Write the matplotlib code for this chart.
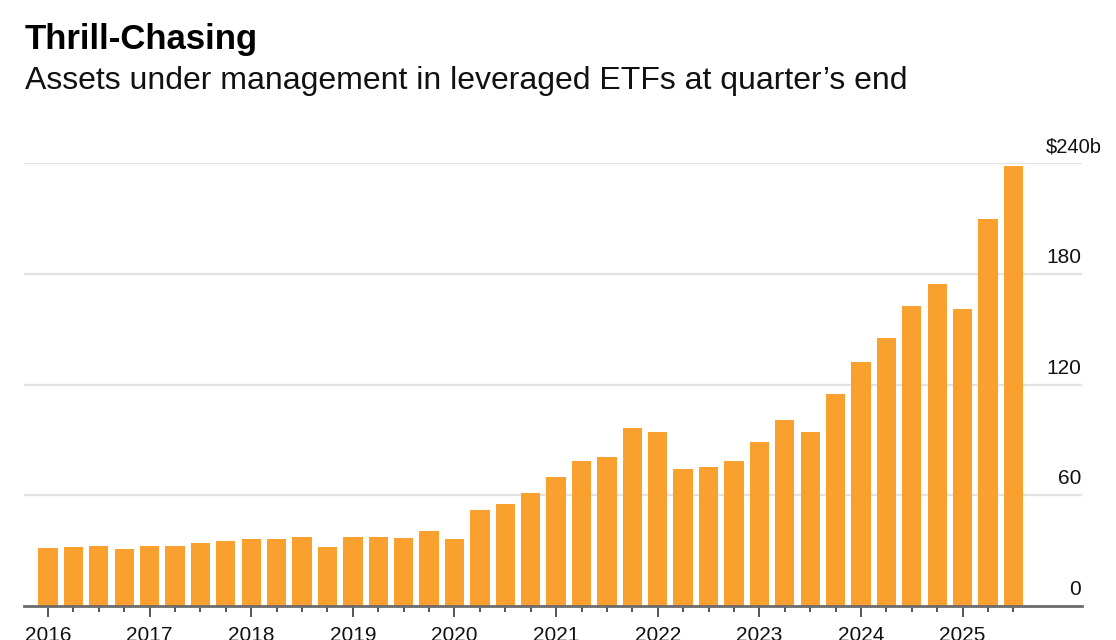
import matplotlib
matplotlib.use("Agg")
import matplotlib.pyplot as plt
import matplotlib.transforms as mtransforms

plt.rcParams['font.family'] = ['Liberation Sans', 'DejaVu Sans']

# ---- data ----
years = [2016, 2017, 2018, 2019, 2020, 2021, 2022, 2023, 2024, 2025]
quarters = [f"{y} Q{q}" for y in years for q in (1, 2, 3, 4)][:39]
aum_billions = [31.3, 31.8, 32.7, 30.9, 32.7, 32.3, 34.1, 35.0, 36.5, 36.3,
                37.6, 32.1, 37.4, 37.4, 37.1, 40.8, 36.3, 51.8, 55.3, 61.0,
                70.0, 78.5, 80.9, 96.6, 94.3, 74.4, 75.5, 78.4, 89.0, 100.8,
                94.4, 114.7, 132.3, 145.0, 162.5, 174.3, 160.9, 209.6, 238.4]
y_ticks = [0, 60, 120, 180, 240]
y_tick_labels = ["0", "60", "120", "180", "$240b"]
title = "Thrill-Chasing"
subtitle = "Assets under management in leveraged ETFs at quarter\u2019s end"

BAR = "#F9A02F"
W, H = 1116, 640
fig = plt.figure(figsize=(W / 100, H / 100), dpi=100)
fig.patch.set_facecolor("white")

left, right, bottom, top = 24, 1082, 606, 163
ax = fig.add_axes([left / W, 1 - bottom / H, (right - left) / W, (bottom - top) / H])
x = list(range(len(quarters)))
ax.bar(x, aum_billions, width=0.76, color=BAR, zorder=3, clip_on=False)

ax.set_xlim(-0.945, 40.7)
ax.set_ylim(0, 240)

for s in ax.spines.values():
    s.set_visible(False)
for v in y_ticks[1:]:
    ax.axhline(v, color="#e3e3e3", lw=1.6, zorder=1)
ax.axhline(0, color="#6b6b6b", lw=2.0, zorder=4, clip_on=False)

ax.set_yticks([])
major = [i for i in x if i % 4 == 0]
minor = [i for i in x if i % 4 != 0]
ax.set_xticks(major)
ax.set_xticklabels([str(y) for y in years])
ax.set_xticks(minor, minor=True)
ax.tick_params(axis="x", which="major", length=8, width=1.4, color="#555555",
               labelsize=15, pad=6.5, labelcolor="#111111")
ax.tick_params(axis="x", which="minor", length=4.3, width=1.4, color="#555555")

trans = mtransforms.blended_transform_factory(ax.transAxes, ax.transData)
for v, lab in zip(y_ticks, y_tick_labels):
    t = mtransforms.offset_copy(trans, fig=fig, x=(20 / 100 * 72 if lab.startswith("$") else -1 / 100 * 72), y=11 / 100 * 72, units="points")
    ax.text(1.0, v, lab, transform=t, ha="right", va="baseline",
            fontsize=15 if not lab.startswith("$") else 14.5, color="#111111")

fig.text(25 / W, 1 - 49 / H, title, fontsize=25, fontweight="bold",
         ha="left", va="baseline", color="#000000")
fig.text(25 / W, 1 - 89 / H, subtitle, fontsize=23,
         ha="left", va="baseline", color="#111111")

fig.savefig("out.png", dpi=100, facecolor="white")
